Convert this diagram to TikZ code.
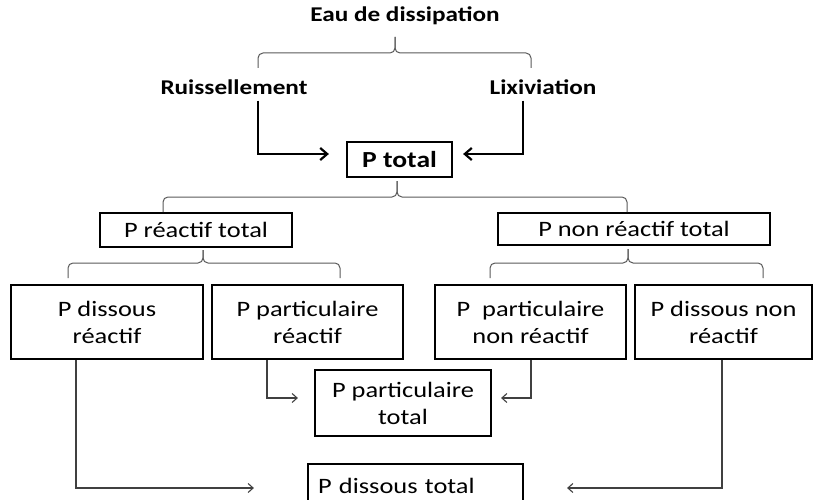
\documentclass[tikz,border=0pt]{standalone}
\usepackage{fontspec}
\setmainfont{Carlito}[FakeStretch=1.2]
\usetikzlibrary{arrows.meta}
\tikzset{
  boite/.style={draw, line width=2.2pt, inner sep=0pt, align=center, font=\fontsize{22}{27}\selectfont},
  titre/.style={inner sep=2pt, font=\bfseries\fontsize{21}{24}\selectfont},
  accol/.style={draw=black!65, line width=1pt, rounded corners=5pt},
  fleche/.style={-{Straight Barb[length=7pt,width=12pt]}, line width=2.2pt},
  flechefine/.style={-{Straight Barb[length=5pt,width=9pt]}, line width=1.1pt, draw=black!75}
}
\begin{document}
\begin{tikzpicture}[x=1pt,y=-1pt]
\useasboundingbox (0,0) rectangle (814,500);
\node[titre, anchor=base] (eau) at (405,22) {Eau de dissipation};
\node[titre] (ruis) at (234,87) {Ruissellement};
\node[titre] (lixi) at (543,87) {Lixiviation};
\node[boite, minimum width=105pt, minimum height=35pt, font=\bfseries\fontsize{23}{26}\selectfont] (ptot) at (399.5,159.5) {P total};
\node[boite, minimum width=192pt, minimum height=34pt] (preac) at (196,230) {P réactif total};
\node[boite, minimum width=272pt, minimum height=32pt] (pnreac) at (634,229) {P non réactif total};
\node[boite, minimum width=192pt, minimum height=74pt] (pdr) at (107,322) {P dissous\\réactif};
\node[boite, minimum width=191pt, minimum height=74pt] (ppr) at (307.5,322) {P particulaire\\réactif};
\node[boite, minimum width=191pt, minimum height=74pt] (ppnr) at (530.5,322) {P~ particulaire\\non réactif};
\node[boite, minimum width=177pt, minimum height=74pt] (pdnr) at (723.5,322) {P dissous non\\réactif};
\node[boite, minimum width=176pt, minimum height=66pt] (ppt) at (403,403) {P particulaire\\total};
\node[boite, minimum width=215pt, minimum height=44pt, text width=195pt, align=left] (pdt) at (415.5,486) {P dissous total};
% accolades
\foreach \xa/\xt/\xb/\yt/\ym/\ye in {258/395/531/37/53/68, 163/397/627/181/197/212, 68/203/340/250/263/278, 490/628/763/249/263/278}
  {\draw[accol] (\xa,\ye) -- (\xa,\ym) -- (\xt,\ym) -- (\xt,\yt);
   \draw[accol] (\xb,\ye) -- (\xb,\ym) -- (\xt,\ym) -- (\xt,\yt);}
\draw[fleche, shorten <=4pt, shorten >=17pt] ([xshift=24pt]ruis.south) |- ([yshift=5.5pt]ptot.west);
\draw[fleche, shorten <=4pt, shorten >=10pt] ([xshift=-20pt]lixi.south) |- ([yshift=5.5pt]ptot.east);
\draw[flechefine, shorten >=16pt] ([xshift=-40.5pt]ppr.south) |- ([yshift=5pt]ppt.west);
\draw[flechefine, shorten >=9pt] ([xshift=0.5pt]ppnr.south) |- ([yshift=5pt]ppt.east);
\draw[flechefine, shorten >=53pt] ([xshift=-31pt]pdr.south) |- ([yshift=-2pt]pdt.west);
\draw[flechefine, shorten >=43pt] ([xshift=-1.5pt]pdnr.south) |- ([yshift=-2pt]pdt.east);
\end{tikzpicture}
\end{document}
